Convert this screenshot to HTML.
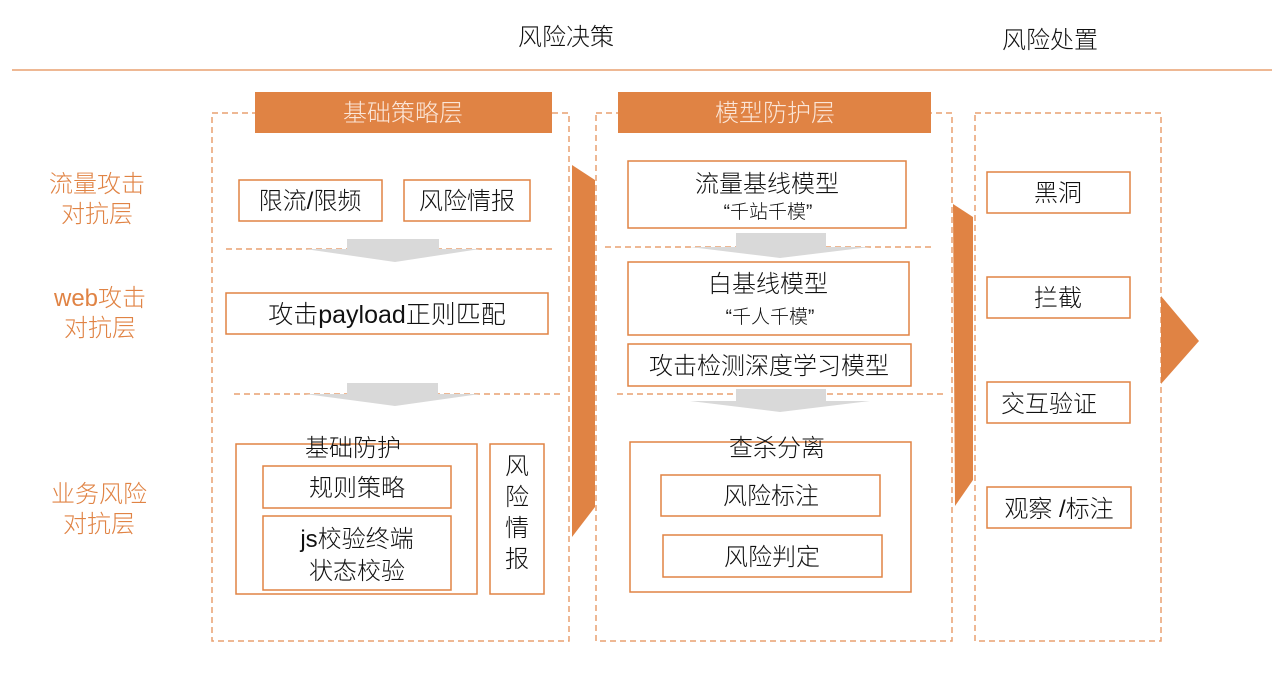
<!DOCTYPE html>
<html><head><meta charset="utf-8"><style>
html,body{margin:0;padding:0;background:#fff;}
svg{display:block;}
text{font-family:"Liberation Sans","Noto Sans CJK SC",sans-serif;font-weight:300;}
</style></head><body>
<svg width="1280" height="682" viewBox="0 0 1280 682" xmlns="http://www.w3.org/2000/svg">
<g fill="none" stroke="#e8a070" stroke-width="1.5" stroke-dasharray="6,4">
<rect x="212" y="113" width="357" height="528"/>
<rect x="596" y="113" width="356" height="528"/>
<rect x="975" y="113" width="186" height="528"/>
<line x1="226" y1="249" x2="553" y2="249"/>
<line x1="234" y1="394" x2="561" y2="394"/>
<line x1="605" y1="247" x2="932" y2="247"/>
<line x1="617" y1="394" x2="945" y2="394"/>
</g>
<line x1="12" y1="70" x2="1272" y2="70" stroke="#e8a070" stroke-width="1.5"/>
<g fill="#d9d9d9">
<polygon points="347,239 439,239 439,249 480,249 395,262 305,249 347,249"/>
<polygon points="347,383 438,383 438,394 480,394 395,406 305,394 347,394"/>
<polygon points="736,233 826,233 826,247 870,247 780,258 690,247 736,247"/>
<polygon points="736,389 826,389 826,401 870,401 780,412 690,401 736,401"/>
</g>
<g fill="#e08344">
<rect x="255" y="92" width="297" height="41"/>
<rect x="618" y="92" width="313" height="41"/>
<polygon points="572,165 595,180 595,507 572,537"/>
<polygon points="953,204 973,217 973,480 955,506"/>
<polygon points="1161,296 1199,341 1161,384"/>
</g>
<g fill="#fff" stroke="#e08344" stroke-width="1.5">
<rect x="239" y="180" width="143" height="41"/>
<rect x="404" y="180" width="126" height="41"/>
<rect x="226" y="293" width="322" height="41"/>
<rect x="236" y="444" width="241" height="150"/>
<rect x="263" y="466" width="188" height="42"/>
<rect x="263" y="516" width="188" height="74"/>
<rect x="490" y="444" width="54" height="150"/>
<rect x="628" y="161" width="278" height="67"/>
<rect x="628" y="262" width="281" height="73"/>
<rect x="628" y="344" width="283" height="42"/>
<rect x="630" y="442" width="281" height="150"/>
<rect x="661" y="475" width="219" height="41"/>
<rect x="663" y="535" width="219" height="42"/>
<rect x="987" y="172" width="143" height="41"/>
<rect x="987" y="277" width="143" height="41"/>
<rect x="987" y="382" width="143" height="41"/>
<rect x="987" y="487" width="144" height="41"/>
</g>
<g font-size="24" fill="#111" text-anchor="middle">
<text x="566" y="45">风险决策</text>
<text x="1050" y="48">风险处置</text>
<text x="403" y="121" fill="#fbe6d8">基础策略层</text>
<text x="775" y="121" fill="#fbe6d8">模型防护层</text>
<text x="310" y="209">限流/限频</text>
<text x="467" y="209">风险情报</text>
<text x="387" y="323" font-size="25">攻击payload正则匹配</text>
<text x="353" y="456">基础防护</text>
<text x="357" y="496">规则策略</text>
<text x="357" y="547">js校验终端</text>
<text x="357" y="579">状态校验</text>
<text x="517" y="474">风</text>
<text x="517" y="505">险</text>
<text x="517" y="536">情</text>
<text x="517" y="567">报</text>
<text x="767" y="192">流量基线模型</text>
<text x="768" y="292">白基线模型</text>
<text x="769" y="374">攻击检测深度学习模型</text>
<text x="777" y="456">查杀分离</text>
<text x="771" y="504">风险标注</text>
<text x="772" y="565">风险判定</text>
<text x="1058" y="201">黑洞</text>
<text x="1058" y="306">拦截</text>
<text x="1049" y="412">交互验证</text>
<text x="1059" y="517">观察 /标注</text>
</g>
<g font-size="19" fill="#111" text-anchor="middle">
<text x="768" y="218">“千站千模”</text>
<text x="770" y="323">“千人千模”</text>
</g>
<g font-size="24" fill="#e08344" text-anchor="middle">
<text x="97" y="192">流量攻击</text>
<text x="97" y="222">对抗层</text>
<text x="100" y="306">web攻击</text>
<text x="100" y="336">对抗层</text>
<text x="99" y="502">业务风险</text>
<text x="99" y="532">对抗层</text>
</g>
</svg>
</body></html>
